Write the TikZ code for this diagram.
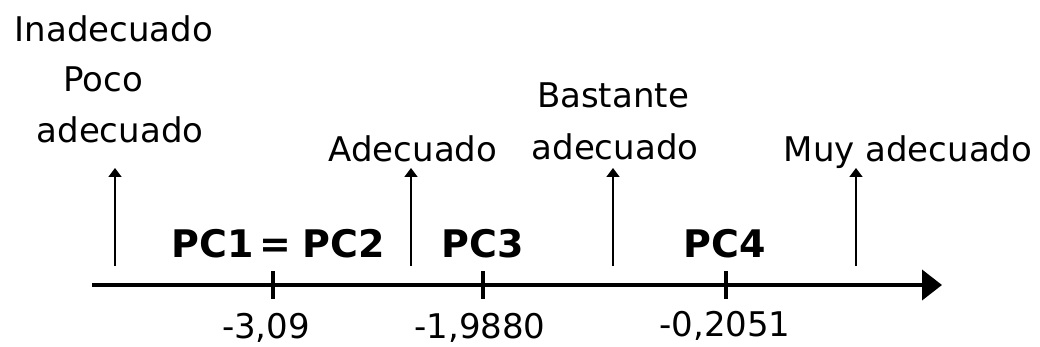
\documentclass[tikz,border=0pt]{standalone}
\usepackage{fontspec}
\setmainfont{DejaVu Sans}
\usetikzlibrary{arrows.meta}
\begin{document}
\begin{tikzpicture}[x=1pt,y=-1pt,
  lbl/.style={anchor=base,inner sep=0pt,font=\fontsize{34}{40}\selectfont},
  pcl/.style={anchor=base,inner sep=0pt,font=\fontsize{38}{44}\selectfont\bfseries},
  num/.style={anchor=base,inner sep=0pt,font=\fontsize{34}{40}\selectfont},
  axisline/.style={line width=4pt,-{Triangle[length=20pt,width=30pt]}},
  tickmark/.style={line width=4pt},
  uparrow/.style={line width=1.8pt,-{Triangle[length=9pt,width=13pt]}}]
\useasboundingbox (0,0) rectangle (1040,347);
% axis
\coordinate (a0) at (92,285);
\coordinate (a1) at (942,285);
\draw[axisline] (a0) -- (a1);
% ticks
\foreach \n/\x in {t1/273,t2/483,t3/726}{
  \coordinate (\n top) at (\x,271);
  \coordinate (\n bot) at (\x,299);
  \draw[tickmark] (\n top) -- (\n bot);
}
% tick values
\node[num] (v1) at (266,338) {-3,09};
\node[num] (v2) at (480,338) {-1,9880};
\node[num] (v3) at (725,336) {-0,2051};
% category bounds
\foreach \n/\x in {u1/115,u2/411,u3/613,u4/856}{
  \coordinate (\n s) at (\x,266);
  \coordinate (\n e) at (\x,168);
  \draw[uparrow] (\n s) -- (\n e);
}
% category names
\node[lbl] (inad) at (114,42) {Inadecuado};
\node[lbl] (poco) at (103,92) {Poco};
\node[lbl] (pocoad) at (120,143) {adecuado};
\node[lbl] (adec) at (413,162) {Adecuado};
\node[lbl] (bast) at (613,108) {Bastante};
\node[lbl] (bastad) at (615,160) {adecuado};
\node[lbl] (muy) at (908,162) {Muy adecuado};
% classes
\node[pcl] (pc12) at (278,257) {PC1\,=\;PC2};
\node[pcl] (pc3) at (483,257) {PC3};
\node[pcl] (pc4) at (725,257) {PC4};
\end{tikzpicture}
\end{document}
